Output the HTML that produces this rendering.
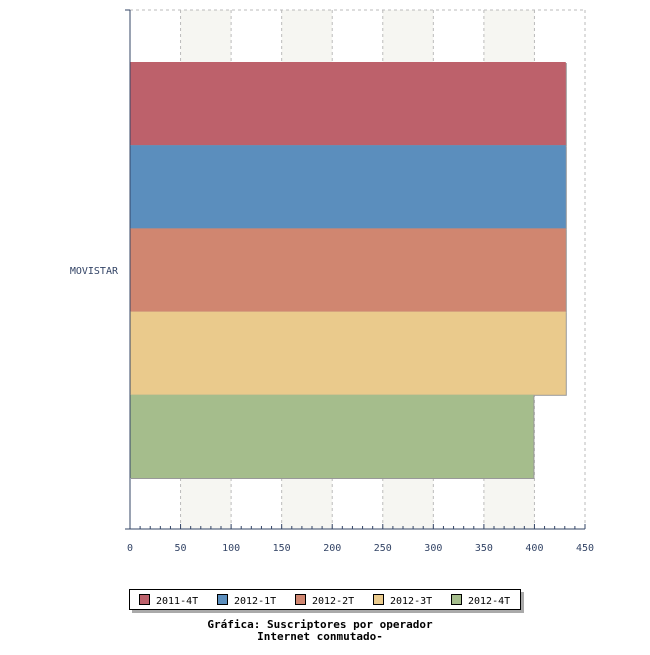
<!DOCTYPE html>
<html><head><meta charset="utf-8"><style>body{margin:0;background:#fff}svg text{font-family:"DejaVu Sans Mono","Liberation Mono",monospace}</style></head>
<body>
<svg id="chart" width="650" height="650" xmlns="http://www.w3.org/2000/svg"></svg>
<script>
const categories=["MOVISTAR"];
const seriesNames=["2011-4T","2012-1T","2012-2T","2012-3T","2012-4T"];
const seriesValues=[[431],[431],[431],[431],[399]];
const tickLabels=["0","50","100","150","200","250","300","350","400","450"];
const colors=["#bd616b","#5b8ebd","#d08670","#eaca8c","#a5bd8c"];
const svg=document.getElementById('chart');const NS="http://www.w3.org/2000/svg";
function mk(t,a,p){const e=document.createElementNS(NS,t);for(const k in a)e.setAttribute(k,a[k]);(p||svg).appendChild(e);return e;}
const X0=130,X1=585,Y0=10,Y1=529,MAX=450;
const xs=v=>X0+v/MAX*(X1-X0);
// bands
for(let i=1;i<tickLabels.length;i+=2){const a=+tickLabels[i],b=+tickLabels[i+1];const r=mk('rect',{x:xs(a),y:Y0,width:xs(b)-xs(a),height:Y1-Y0,fill:'#f6f6f2'});}
mk('line',{x1:X0,y1:Y0,x2:X1,y2:Y0,stroke:'#bbb','stroke-dasharray':'3,3'});
tickLabels.forEach((t,i)=>{const x=xs(+t);if(i>0){const l=mk('line',{x1:x,y1:Y0,x2:x,y2:Y1,stroke:'#bbb','stroke-dasharray':'3,3'});}
const tx=mk('text',{x:x,y:551,'font-size':10,fill:'#334466','text-anchor':'middle'});tx.textContent=t;});
// bars
const bandTop=62,bandH=(478-62)/seriesNames.length;
categories.forEach((c,ci)=>{seriesValues.forEach((s,si)=>{const y=bandTop+si*bandH;
mk('rect',{x:X0+1,y:y+1,width:xs(s[ci])-X0,height:bandH,fill:'#999'});
const r=mk('rect',{x:X0,y:y,width:xs(s[ci])-X0,height:bandH,fill:colors[si]});});
const t=mk('text',{x:118,y:274,'font-size':10,fill:'#334466','text-anchor':'end'});t.textContent=c;});
// axes
mk('line',{x1:X0,y1:Y0,x2:X0,y2:Y1,stroke:'#334466'});mk('line',{x1:125,y1:Y0,x2:X0,y2:Y0,stroke:'#334466'});
mk('line',{x1:125,y1:Y1,x2:X1,y2:Y1,stroke:'#334466'});
for(let v=0;v<=MAX;v+=10){const x=xs(v);const major=v%50==0;mk('line',{x1:x,y1:Y1,x2:x,y2:Y1-(major?5:3),stroke:'#334466'});}
// legend
const lg=mk('g',{});
mk('rect',{x:132,y:592,width:392,height:21,fill:'#aaa'},lg);mk('rect',{x:129.5,y:589.5,width:391,height:20,fill:'#fff',stroke:'#000'},lg);
seriesNames.forEach((n,i)=>{const x=140+i*78;const g=mk('g',{},lg);
mk('rect',{x:x-0.5,y:594.5,width:10,height:10,fill:colors[i],stroke:'#000'},g);const t=mk('text',{x:x+16,y:604,'font-size':10,fill:'#000'},g);t.textContent=n;});
const t1=mk('text',{x:320,y:628,'font-size':11,'font-weight':'bold','text-anchor':'middle'});t1.textContent="Gráfica: Suscriptores por operador";
const t2=mk('text',{x:320,y:640,'font-size':11,'font-weight':'bold','text-anchor':'middle'});t2.textContent="Internet conmutado-";
</script>
</body></html>
